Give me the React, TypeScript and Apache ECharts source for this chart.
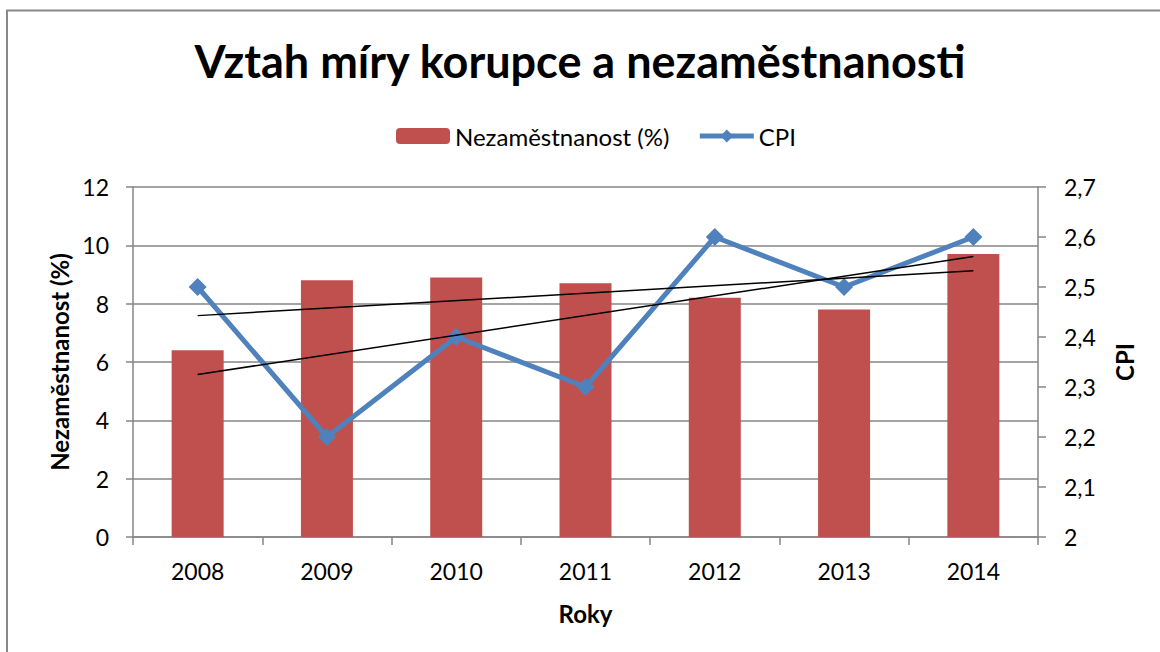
import React, { useEffect, useRef } from "react";
import * as echarts from "echarts";

const years = ["2008", "2009", "2010", "2011", "2012", "2013", "2014"];
const unemployment = [6.4, 8.8, 8.9, 8.7, 8.2, 7.8, 9.7];
const cpi = [2.5, 2.2, 2.4, 2.3, 2.6, 2.5, 2.6];
// trendline endpoints (2008 and 2014)
const unempTrend = [7.59, 9.13];
const cpiTrend = [2.325, 2.561];
const leftTicks = { min: 0, max: 12, interval: 2 };
const rightTicks = { min: 2, max: 2.7, interval: 0.1 };

const FONT = "Lato, 'Open Sans', sans-serif";
const GRAY = "#868686";

export default function App() {
  const ref = useRef<HTMLDivElement>(null);
  useEffect(() => {
    if (!ref.current) return;
    const chart = echarts.init(ref.current, undefined, { renderer: "svg" });
    const axisLabel = { color: "#000", fontSize: 23, fontFamily: FONT };
    const nameStyle = { color: "#000", fontSize: 24, fontWeight: "bold" as const, fontFamily: FONT };
    chart.setOption({
      animation: false,
      backgroundColor: "#fff",
      textStyle: { fontFamily: FONT },
      title: {
        text: "Vztah míry korupce a nezaměstnanosti",
        left: "center",
        top: 33,
        textStyle: { fontSize: 45, fontWeight: "bold", color: "#000", fontFamily: FONT },
      },
      graphic: [
        {
          type: "rect",
          shape: { x: 7, y: 10.5, width: 1170, height: 700 },
          style: { fill: "none", stroke: "#898989", lineWidth: 2 },
          silent: true,
        },
      ],
      legend: {
        data: [
          { name: "Nezaměstnanost (%)" },
          { name: "CPI", lineStyle: { width: 5, color: "#4F81BD" }, itemStyle: { color: "#4F81BD" } },
        ],
        top: 119,
        left: 391,
        itemWidth: 54,
        itemHeight: 16,
        itemGap: 28,
        textStyle: { fontSize: 24, color: "#000", fontFamily: FONT },
      },
      grid: { left: 133, right: 122, top: 187, bottom: 115, containLabel: false },
      xAxis: {
        type: "category",
        data: years,
        boundaryGap: true,
        name: "Roky",
        nameLocation: "middle",
        nameGap: 64,
        nameTextStyle: nameStyle,
        axisLine: { lineStyle: { color: GRAY, width: 1.5 } },
        axisTick: { show: true, interval: 0, length: 8, lineStyle: { color: GRAY, width: 1.5 } },
        axisLabel: { ...axisLabel, margin: 22, interval: 0 },
      },
      yAxis: [
        {
          type: "value",
          ...leftTicks,
          position: "left",
          name: "Nezaměstnanost (%)",
          nameLocation: "middle",
          nameGap: 61,
          nameRotate: 90,
          nameTextStyle: nameStyle,
          axisLine: { show: true, lineStyle: { color: GRAY, width: 1.5 } },
          axisTick: { show: true, length: 7, lineStyle: { color: GRAY, width: 1.5 } },
          axisLabel: { ...axisLabel, margin: 24 },
          splitLine: { show: true, lineStyle: { color: GRAY, width: 1.5 } },
        },
        {
          type: "value",
          ...rightTicks,
          position: "right",
          name: "CPI",
          nameLocation: "middle",
          nameGap: 74,
          nameRotate: 90,
          nameTextStyle: nameStyle,
          axisLine: { show: true, lineStyle: { color: GRAY, width: 1.5 } },
          axisTick: { show: true, length: 8, lineStyle: { color: GRAY, width: 1.5 } },
          axisLabel: {
            ...axisLabel,
            margin: 26,
            formatter: (v: number) => (Math.round(v * 10) / 10).toString().replace(".", ","),
          },
          splitLine: { show: false },
        },
      ],
      series: [
        {
          name: "Nezaměstnanost (%)",
          type: "bar",
          data: unemployment,
          barWidth: 52,
          itemStyle: { color: "#C0504D" },
          yAxisIndex: 0,
        },
        {
          name: "CPI",
          type: "line",
          data: cpi,
          yAxisIndex: 1,
          symbol: "diamond",
          symbolSize: 18,
          lineStyle: { color: "#4F81BD", width: 5 },
          itemStyle: { color: "#4F81BD" },
          z: 3,
        },
        {
          name: "trend1",
          type: "line",
          yAxisIndex: 0,
          data: [
            [years[0], unempTrend[0]],
            [years[years.length - 1], unempTrend[1]],
          ],
          symbol: "none",
          silent: true,
          lineStyle: { color: "#000", width: 1.5 },
          z: 4,
        },
        {
          name: "trend2",
          type: "line",
          yAxisIndex: 1,
          data: [
            [years[0], cpiTrend[0]],
            [years[years.length - 1], cpiTrend[1]],
          ],
          symbol: "none",
          silent: true,
          lineStyle: { color: "#000", width: 1.5 },
          z: 4,
        },
      ],
    });
    return () => chart.dispose();
  }, []);
  return (
    <div
      ref={ref}
      style={{ position: "absolute", left: 0, top: 0, width: 1160, height: 652 }}
    />
  );
}
